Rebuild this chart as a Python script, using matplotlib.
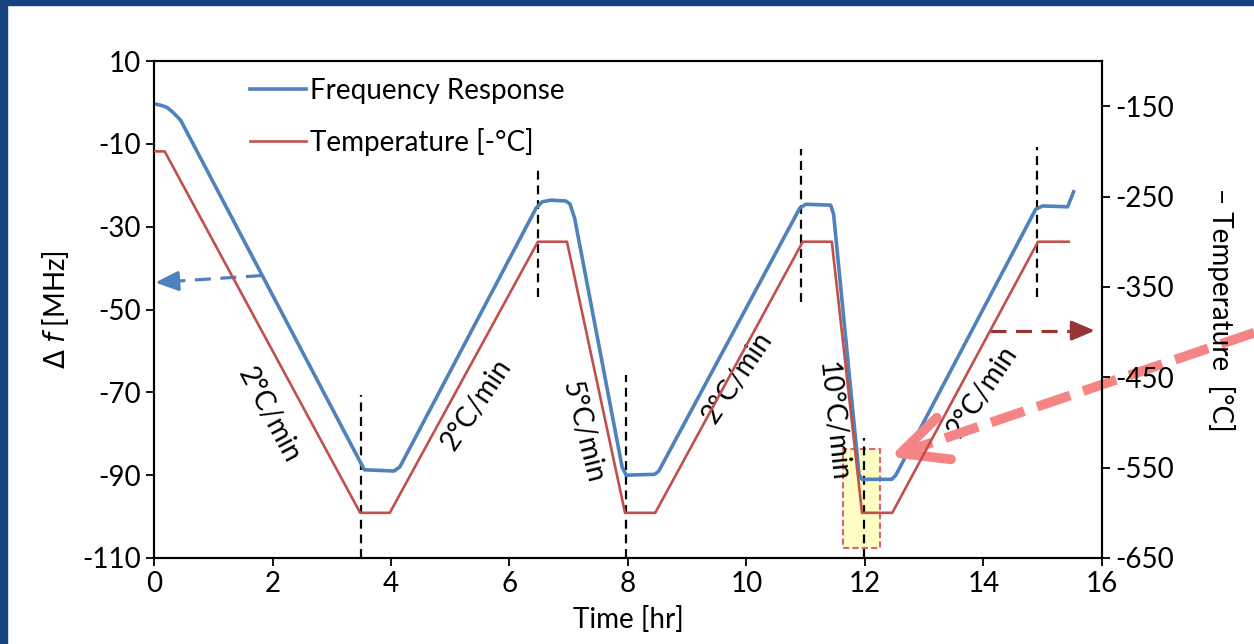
import numpy as np
import matplotlib.pyplot as plt
from matplotlib.lines import Line2D
from matplotlib.patches import Rectangle

plt.rcParams['font.family'] = ['Lato', 'DejaVu Sans']
plt.rcParams['mathtext.fontset'] = 'dejavusans'
plt.rcParams['axes.unicode_minus'] = False

# frequency response (left axis, MHz)
freq_t = [0, 0.12, 0.22, 0.32, 0.45, 3.55, 4.05, 4.15, 6.45, 6.55, 6.7, 6.95, 7.02, 7.1, 7.9, 7.97,
          8.45, 8.52, 10.9, 11.0, 11.42, 11.47, 11.9, 11.95, 12.45, 12.52, 14.88, 15.0, 15.42, 15.52]
freq_df = [-0.3, -0.7, -1.2, -2.4, -4.3, -88.7, -89.0, -88.0, -25.5, -24.0, -23.6, -23.8, -24.5, -28.0,
           -88.0, -90.0, -89.8, -89.0, -25.5, -24.6, -24.8, -27.0, -90.0, -91.0, -91.0, -90.0,
           -25.8, -25.0, -25.2, -21.6]

# temperature profile (right axis, -degC)
temp_t = [0, 0.18, 3.48, 3.98, 6.48, 6.97, 7.95, 8.46, 10.95, 11.44, 11.95, 12.46, 14.92, 15.44]
temp_v = [-200, -200, -600, -600, -300, -300, -600, -600, -300, -300, -600, -600, -300, -300]

# ramp rate labels: (x, y, text, rotation)
rate_labels = [
    (1.94, -75.4, '2°C/min', -62),
    (5.45, -73.0, '2°C/min', 56),
    (7.24, -79.5, '5°C/min', -76),
    (9.84, -66.5, '2°C/min', 56),
    (11.46, -77.1, '10°C/min', -84),
    (13.99, -69.8, '2°C/min', 56),
]

# dashed markers at the end of each ramp: (x, ymin, ymax)
markers = [
    (3.49, -110, -70.6),
    (6.48, -47.1, -16.1),
    (7.97, -110, -65.7),
    (10.92, -48.1, -11.3),
    (11.98, -110, -81.0),
    (14.9, -47.1, -10.8),
]

left_ticks = np.arange(-110, 11, 20)
right_ticks = np.arange(-650, -149, 100)
x_ticks = np.arange(0, 17, 2)

BLUE = '#4f81bd'
RED = '#c0504d'
FS = 20

fig = plt.figure(figsize=(12.54, 6.44), dpi=100)
ax = fig.add_axes([154 / 1254, 1 - 558 / 644, 948 / 1254, 497 / 644])
ax2 = ax.twinx()

# highlight box around the fast ramp
ax.add_patch(Rectangle((11.63, -107.6), 0.62, 24.0, facecolor='#fdfdc4',
                       edgecolor='#e06666', linestyle=(0, (3, 1.5)), lw=1.5, zorder=1))

ax.plot(freq_t, freq_df, color=BLUE, lw=2.6, zorder=3)
ax2.plot(temp_t, temp_v, color=RED, lw=1.9, zorder=3)

for x, y0, y1 in markers:
    ax.vlines(x, y0, y1, colors='black', linestyles=(0, (4, 2.6)), lw=1.6, zorder=2)

for x, y, s, r in rate_labels:
    ax.text(x, y, s, rotation=r, ha='center', va='center', fontsize=FS,
            rotation_mode='anchor', zorder=4)


def dashed_arrow(a, x0, y0, x1, y1, color, lw, dashes, style, back=0.05, scale=10):
    # dashed shaft plus a solid head at (x1, y1)
    a.plot([x0, x1 + (x0 - x1) * back], [y0, y1 + (y0 - y1) * back], color=color, lw=lw,
           dashes=dashes, solid_capstyle='butt', dash_capstyle='butt', clip_on=False, zorder=5)
    a.annotate('', xy=(x1, y1), xytext=(x1 + (x0 - x1) * back * 1.5, y1 + (y0 - y1) * back * 1.5),
               arrowprops=dict(arrowstyle=style, color=color, lw=lw, shrinkA=0, shrinkB=0,
                               mutation_scale=scale),
               annotation_clip=False, zorder=5)


dashed_arrow(ax, 1.82, -41.8, 0.02, -43.5, BLUE, 2.3, (5, 3),
             '-|>,head_length=0.7,head_width=0.3', back=0.12, scale=20)
dashed_arrow(ax, 14.11, -55.1, 15.88, -55.1, '#943634', 2.3, (5, 3),
             '-|>,head_length=0.7,head_width=0.3', back=0.12, scale=20)

# big pointer toward the highlighted region
dashed_arrow(ax, 18.57, -55.6, 12.42, -85.6, '#f58585', 7, (3.6, 1.4),
             '->,head_length=1.5,head_width=0.72', back=0.04, scale=22)

ax.set_xlim(0, 16)
ax.set_ylim(-110, 10)
ax2.set_ylim(-650, -100)
ax.set_xticks(x_ticks)
ax.set_yticks(left_ticks)
ax2.set_yticks(right_ticks)

for a in (ax, ax2):
    for sp in a.spines.values():
        sp.set_linewidth(1.5)
    a.tick_params(labelsize=FS, width=1.3, length=6, direction='out')

ax.set_xlabel('Time [hr]', fontsize=FS, labelpad=6)
ax.set_ylabel(r'$\Delta$ $f$ [MHz]', fontsize=FS, labelpad=8)
ax2.set_ylabel('− Temperature  [°C]', fontsize=FS, rotation=270, labelpad=44)

handles = [Line2D([], [], color=BLUE, lw=2.6), Line2D([], [], color=RED, lw=1.9)]
ax2.legend(handles, ['Frequency Response', 'Temperature [-°C]'], loc='upper left',
           bbox_to_anchor=(0.075, 1.016), frameon=False, fontsize=FS, handlelength=2.0,
           handletextpad=0.15, labelspacing=0.85)

# slide frame strips
fig.patches.append(Rectangle((0, 0), 7 / 1254, 1, transform=fig.transFigure,
                             color='#14417f', zorder=10))
fig.patches.append(Rectangle((0, 1 - 5 / 644), 1, 5 / 644, transform=fig.transFigure,
                             color='#14417f', zorder=10))

fig.savefig('out.png', dpi=100)
